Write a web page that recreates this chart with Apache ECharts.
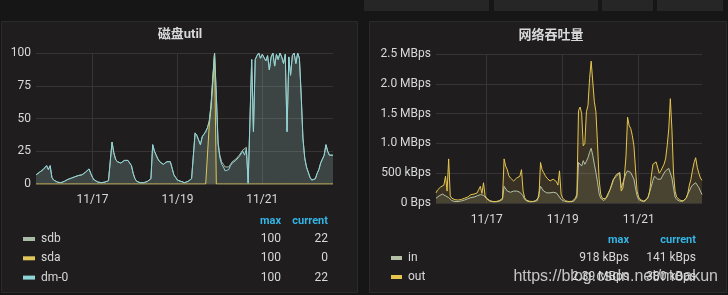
<!DOCTYPE html>
<html>
<head>
<meta charset="utf-8">
<script src="https://cdn.jsdelivr.net/npm/echarts/dist/echarts.min.js"></script>
<style>
html,body{margin:0;padding:0;background:#161616;}
#c{width:728px;height:295px;}
</style>
</head>
<body>
<div id="c"></div>
<script>
// ---- time base: hourly samples from 11/15 16:00 to 11/22 16:00 ----
const startTime = new Date(2018, 10, 15, 16, 0, 0).getTime();
const hourCount = 169;
const dayTicks = ['2018-11-17', '2018-11-19', '2018-11-21'];

// ---- 磁盘util (percent) ----
const sdb = [
  7,8,9,10,11,12,14,11,14,5,3,2,1.5,1,1,1.5,2,3,3.5,4,4.5,5,5.5,6,
  6.5,7,7,8,9,10,11.5,8,5,3,2,1.5,1,1,1,1.5,2,2.5,3,32,24,19,17,16,
  16,17,18,18,18,17,14,8,4,2,1.5,1,1,1,1.5,2,3,4,30,25,22,19,17,16,
  15,16,17,17,17,12,7,5,3,2,2,1,1,1,2,3,4,4,39,37,38,30,36,38,
  40,43,48,60,81,100,68,32,22,17,15,13,12,13,15,17,18,19,20,22,24,26,25,28,
  1,0.5,95,40,95,98,100,96,99,100,94,98,87,97,100,90,99,95,100,97,92,99,40,97,
  83,98,100,92,100,96,68,35,20,13,9,5,3,3,4,8,11,16,19,22,30,25,22,22,22
];
const sda = [
  0,0,0,0,0,0,0,0,0,0,0,0,0,0,0,0,0,0,0,0,0,0,0,0,
  0,0,0,0,0,0,0,0,0,0,0,0,0,0,0,0,0,0,0,0,0,0,0,0,
  0,0,0,0,0,0,0,0,0,0,0,0,0,0,0,0,0,0,0,0,0,0,0,0,
  0,0,0,0,0,0,0,0,0,0,0,0,0,0,0,0,0,0,0,0,0,0,0,0,
  0,0,45,58,77,100,0,0,0,0,0,0,0,0,0,0,0,0,0,0,0,0,0,0,
  0,0,0,0,0,0,0,0,0,0,0,0,0,0,0,0,0,0,0,0,0,0,0,0,
  0,0,0,0,0,0,0,0,0,0,0,0,0,0,0,0,0,0,0,0,0,0,0,0,0
];
const dm0 = [
  7,8,9,10,11,12,14,11,14,5,3,2,1.5,1,1,1.5,2,3,3.5,4,4.5,5,5.5,6,
  6.5,7,7,8,9,10,11.5,8,5,3,2,1.5,1,1,1,1.5,2,2.5,3,32,24,19,17,16,
  16,17,18,18,18,17,14,8,4,2,1.5,1,1,1,1.5,2,3,4,30,25,22,19,17,16,
  15,16,17,17,17,12,7,5,3,2,2,1,1,1,2,3,4,4,39,37,38,30,36,38,
  40,43,48,60,81,100,68,30,20,15,13,10,9,11,14,16,15,18,17,21,22,25,22,27,
  0.5,0.5,95,40,95,98,100,96,99,100,94,98,87,97,100,90,99,95,100,97,92,99,40,97,
  83,98,100,92,100,96,68,35,20,13,9,5,3,3,4,8,11,16,19,22,30,25,22,22,22
];
const utilTicks = [0, 25, 50, 75, 100];

// ---- 网络吞吐量 (kBps) ----
const netIn = [
  80,100,120,140,150,130,120,100,90,70,40,30,25,25,25,30,35,40,50,60,70,80,90,100,
  100,110,120,130,140,140,130,100,70,40,30,25,20,20,20,25,30,40,60,280,250,200,170,180,
  190,200,210,200,190,180,170,120,60,35,25,20,20,20,25,30,40,60,280,250,200,180,170,170,
  170,175,180,170,170,140,100,60,40,30,25,20,20,20,25,30,50,100,680,700,620,710,650,700,
  760,850,918,800,650,510,350,160,80,50,40,50,100,160,230,300,380,440,480,500,510,250,280,420,
  500,540,520,510,500,400,250,120,60,40,30,25,30,50,100,200,280,380,450,420,400,390,400,450,
  500,540,570,580,560,420,250,100,60,40,30,25,30,50,80,150,200,260,300,330,340,300,260,200,141
];
const netOut = [
  170,220,250,270,280,300,450,200,740,120,80,60,55,50,50,55,60,70,80,90,100,130,140,150,
  150,160,170,160,280,160,340,120,80,60,40,30,25,25,25,30,40,60,80,740,620,560,460,420,
  390,370,380,420,440,450,560,200,90,50,35,30,25,25,30,40,70,100,680,560,510,460,420,390,
  370,380,400,390,360,300,540,150,80,50,35,30,25,25,30,50,80,150,1550,1610,1500,960,1000,1530,
  1640,2090,2380,2390,1700,1530,1000,400,150,80,60,70,120,180,230,320,400,430,450,480,510,200,250,450,
  790,1440,1300,1250,1130,960,570,200,100,60,40,30,40,60,100,200,450,650,680,690,700,500,540,570,
  650,740,960,1240,1750,1240,500,200,100,80,50,30,35,50,80,150,300,400,550,680,760,600,500,420,380
];
const netTicks = [0, 500, 1000, 1500, 2000, 2500];

// ---- helpers (x axis in hours since startTime) ----
const HOUR = 3600 * 1000;
const hours = [];
for (let i = 0; i < hourCount; i++) hours.push(i);
const pair = arr => arr.map((v, i) => [hours[i], v]);
const tickHours = dayTicks.map(s => { const p = s.split('-').map(Number); return (new Date(p[0], p[1] - 1, p[2]).getTime() - startTime) / HOUR; });
const fmtDay = h => { const d = new Date(startTime + h * HOUR); return (d.getMonth() + 1) + '/' + d.getDate(); };
const fmtAxisRate = v => v === 0 ? '0 Bps' : (v >= 1000 ? (v / 1000).toFixed(1) + ' MBps' : v + ' kBps');
const fmtLegendRate = v => v >= 1000 ? (v / 1000).toFixed(2) + ' MBps' : Math.round(v) + ' kBps';
const maxOf = a => Math.max.apply(null, a);
const last = a => a[a.length - 1];

const FONT = 'Roboto, "Noto Sans CJK SC", sans-serif';
const TXT = '#d8d9da';
const GRID = '#363435';
const BLUE = '#33b5e5';
const C = { sdb: '#a9bba6', sda: '#e0c75a', dm0: '#8ed4d8', in: '#b4c0a4', out: '#e5c54f' };

function lineSeries(name, data, color, xi) {
  return {
    name, type: 'line', xAxisIndex: xi, yAxisIndex: xi,
    data: pair(data), showSymbol: false, symbol: 'none',
    lineStyle: { width: 1, color }, itemStyle: { color },
    areaStyle: { color, opacity: 0.13 }, animation: false
  };
}

function xAxis(gi) {
  return {
    type: 'value', gridIndex: gi, min: 0, max: hourCount - 1,
    axisLine: { show: false }, axisTick: { show: false, customValues: tickHours },
    splitLine: { show: true, lineStyle: { color: GRID, width: 1 } },
    axisLabel: { customValues: tickHours, formatter: fmtDay, color: TXT, fontSize: 12, fontFamily: FONT, margin: gi === 0 ? 10 : 11 }
  };
}

const graphics = [];
// top toolbar boxes
[[364,125],[494,104],[602,51],[657,66]].forEach(b => graphics.push({ type: 'rect', z: -10, shape: { x: b[0], y: 0, width: b[1], height: 11 }, style: { fill: '#262627' } }));
// panels
graphics.push({ type: 'rect', z: -10, shape: { x: 1.5, y: 21.5, width: 356, height: 271 }, style: { fill: '#1f1d1e', stroke: '#2a2a2a', lineWidth: 1 } });
graphics.push({ type: 'rect', z: -10, shape: { x: 369.5, y: 21.5, width: 357, height: 271 }, style: { fill: '#1f1d1e', stroke: '#2a2a2a', lineWidth: 1 } });
// titles
graphics.push({ type: 'text', style: { text: '磁盘util', x: 180, y: 35, align: 'center', verticalAlign: 'middle', fill: TXT, font: 'bold 13px ' + FONT } });
graphics.push({ type: 'text', style: { text: '网络吞吐量', x: 551, y: 36, align: 'center', verticalAlign: 'middle', fill: TXT, font: 'bold 13px ' + FONT } });

function txt(t, x, y, color, align, font) {
  graphics.push({ type: 'text', style: { text: t, x, y, align: align || 'left', verticalAlign: 'middle', fill: color, font: font || ('12px ' + FONT) } });
}
// left legend
txt('max', 281, 221, BLUE, 'right', 'bold 11px ' + FONT);
txt('current', 328, 221, BLUE, 'right', 'bold 11px ' + FONT);
const leftLegend = [['sdb', sdb, C.sdb], ['sda', sda, C.sda], ['dm-0', dm0, C.dm0]];
leftLegend.forEach((r, i) => {
  const y = 239 + i * 19.3;
  graphics.push({ type: 'rect', shape: { x: 23, y: y - 2, width: 12, height: 4 }, style: { fill: r[2] } });
  txt(r[0], 41, y, TXT, 'left');
  txt(String(Math.round(maxOf(r[1]))), 281, y, TXT, 'right');
  txt(String(Math.round(last(r[1]))), 328, y, TXT, 'right');
});
// right legend
txt('max', 629, 240, BLUE, 'right', 'bold 11px ' + FONT);
txt('current', 696, 240, BLUE, 'right', 'bold 11px ' + FONT);
const rightLegend = [['in', netIn, C.in], ['out', netOut, C.out]];
rightLegend.forEach((r, i) => {
  const y = 258 + i * 19;
  graphics.push({ type: 'rect', shape: { x: 391, y: y - 2, width: 11, height: 4 }, style: { fill: r[2] } });
  txt(r[0], 408, y, TXT, 'left');
  txt(fmtLegendRate(maxOf(r[1])), 629, y, TXT, 'right');
  txt(fmtLegendRate(last(r[1])), 696, y, TXT, 'right');
});
// watermark
graphics.push({ type: 'text', z: 100, style: { text: 'https://blog.csdn.net/moakun', x: 718, y: 277, align: 'right', verticalAlign: 'middle', fill: 'rgba(225,225,225,0.85)', font: '16px "Liberation Sans", Arial, sans-serif' } });

const chart = echarts.init(document.getElementById('c'), null, { renderer: 'canvas' });
chart.setOption({
  backgroundColor: '#161616',
  animation: false,
  grid: [
    { left: 36, top: 53, width: 297, height: 131 },
    { left: 436, top: 54, width: 266, height: 149 }
  ],
  xAxis: [xAxis(0), xAxis(1)],
  yAxis: [
    { type: 'value', gridIndex: 0, min: utilTicks[0], max: utilTicks[utilTicks.length - 1], interval: 25,
      axisLine: { show: false }, axisTick: { show: false },
      splitLine: { lineStyle: { color: GRID } },
      axisLabel: { color: TXT, fontSize: 12, fontFamily: FONT, margin: 5 } },
    { type: 'value', gridIndex: 1, min: netTicks[0], max: netTicks[netTicks.length - 1], interval: 500,
      axisLine: { show: false }, axisTick: { show: false },
      splitLine: { lineStyle: { color: GRID } },
      axisLabel: { color: TXT, fontSize: 12, fontFamily: FONT, margin: 5, formatter: fmtAxisRate } }
  ],
  series: [
    lineSeries('sdb', sdb, C.sdb, 0),
    lineSeries('sda', sda, C.sda, 0),
    lineSeries('dm-0', dm0, C.dm0, 0),
    lineSeries('in', netIn, C.in, 1),
    lineSeries('out', netOut, C.out, 1)
  ],
  graphic: graphics
});
</script>
</body>
</html>
